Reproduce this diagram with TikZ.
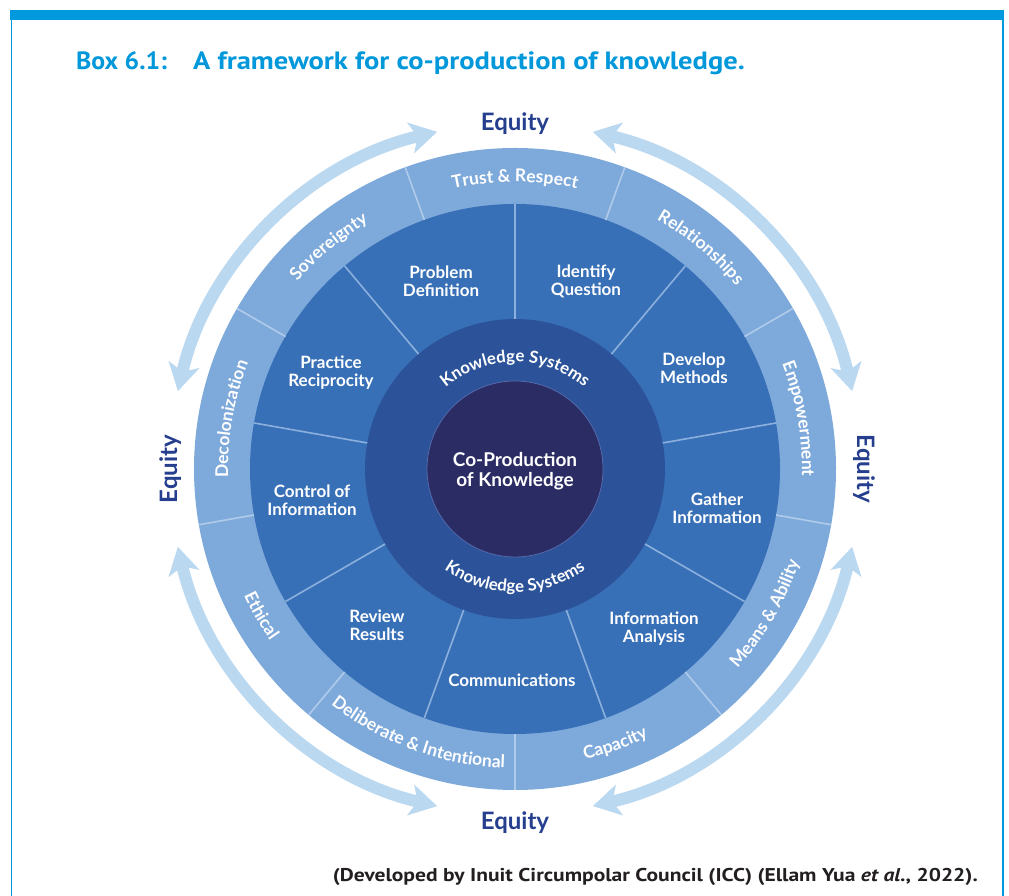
\documentclass[tikz,border=0pt]{standalone}
\usepackage{fontspec}
\usetikzlibrary{arrows.meta,decorations.text}
\newfontfamily\lato{Lato}
\newfontfamily\ptbox[FakeStretch=1.03]{PT Sans}
\newfontfamily\pttitle[FakeStretch=1.14]{PT Sans}
\newfontfamily\ptcap[FakeStretch=1.165]{PT Sans}
\definecolor{framec}{HTML}{0099DD}
\definecolor{titlec}{HTML}{0098DA}
\definecolor{outerc}{HTML}{7EA9DB}
\definecolor{odivc}{HTML}{B0CBEA}
\definecolor{midc}{HTML}{3870B7}
\definecolor{mdivc}{HTML}{8CB0DE}
\definecolor{ksc}{HTML}{2C5399}
\definecolor{innc}{HTML}{2A2C63}
\definecolor{innedge}{HTML}{5468AA}
\definecolor{arrc}{HTML}{BBD8F1}
\definecolor{eqc}{HTML}{253E8E}
\definecolor{capc}{HTML}{231F20}
\newcommand\outfont{\lato\bfseries\fontsize{17.5}{18}\selectfont}
\newcommand\ksfont{\lato\bfseries\fontsize{16.8}{18}\selectfont}
% text on an arc read clockwise (tops outward)
\newcommand\arcup[5]{%
  \path[shift={(515,427)},decorate,decoration={text along path,text align=center,text color=white,text={|#4|#5}}]
    (#1+#3:#2) arc[start angle=#1+#3,end angle=#1-#3,radius=#2];}
% text on an arc read counter-clockwise (tops inward)
\newcommand\arcdown[5]{%
  \path[shift={(515,427)},decorate,decoration={text along path,text align=center,text color=white,text={|#4|#5}}]
    (#1-#3:#2) arc[start angle=#1-#3,end angle=#1+#3,radius=#2];}
\tikzset{
  midlbl/.style={text=white,font=\lato\bfseries\fontsize{17}{18}\selectfont,align=center,inner sep=0pt},
  eqlbl/.style={text=eqc,font=\lato\bfseries\fontsize{24}{26}\selectfont,inner sep=0pt,anchor=base},
  wheelarrow/.style={draw=arrc,line width=12pt,{Stealth[length=27pt,width=31pt,inset=7pt]}-{Stealth[length=27pt,width=31pt,inset=7pt]}},
  odiv/.style={draw=odivc,line width=1.6pt},
  mdiv/.style={draw=mdivc,line width=1.6pt},
  titlefont/.style={text=titlec,font=\pttitle\bfseries\fontsize{25}{30}\selectfont,inner sep=0pt,anchor=base west},
}
\begin{document}
\begin{tikzpicture}[x=1pt,y=1pt]
\useasboundingbox (0,0) rectangle (1009,896);
\fill[white] (0,0) rectangle (1009,896);
% frame
\fill[framec] (10,876) rectangle (1004,886);
\draw[framec,line width=1.6pt] (11.3,876) -- (11.3,0);
\draw[framec,line width=1.6pt] (1002.7,876) -- (1002.7,0);
% title
\node[titlefont,font=\ptbox\bfseries\fontsize{25}{30}\selectfont] (tbox) at (76,826) {Box 6.1:};
\node[titlefont] (ttitle) at (193,826) {A framework for co-production of knowledge.};
% caption
\node[anchor=base east,text=capc,font=\ptcap\bfseries\fontsize{18.5}{22}\selectfont,inner sep=0pt] (cap) at (978,14)
  {(Developed by Inuit Circumpolar Council (ICC) (Ellam Yua \textit{et al.}, 2022).};
% arrows
\draw[wheelarrow,shift={(515,427)}] (167:346) arc[start angle=167,end angle=103,radius=346];
\draw[wheelarrow,shift={(515,427)}] (77:346) arc[start angle=77,end angle=13,radius=346];
\draw[wheelarrow,shift={(515,427)}] (193:346) arc[start angle=193,end angle=257,radius=346];
\draw[wheelarrow,shift={(515,427)}] (283:346) arc[start angle=283,end angle=347,radius=346];
% Equity labels
\node[eqlbl] (eqt) at (515,765) {Equity};
\node[eqlbl] (eqb) at (515,66) {Equity};
\node[eqlbl,rotate=90] (eql) at (177,427) {Equity};
\node[eqlbl,rotate=-90] (eqr) at (857,427) {Equity};
% wheel
\fill[outerc] (515,427) circle[radius=321];
\fill[midc] (515,427) circle[radius=265];
\fill[ksc] (515,427) circle[radius=150];
\filldraw[fill=innc,draw=innedge,line width=0.8pt] (515,427) circle[radius=88];
\foreach \a in {30,70,...,350} \draw[odiv,shift={(515,427)}] (\a:265) -- (\a:321);
\foreach \a in {10,50,...,330} \draw[mdiv,shift={(515,427)}] (\a:150) -- (\a:265);
% outer ring texts
\arcup{90}{287}{20}{\outfont}{Trust {\&} Respect}
\arcup{130}{287}{20}{\outfont}{Sovereignty}
\arcup{50}{287}{20}{\outfont}{Relationships}
\arcup{170}{287}{20}{\outfont}{Decolonization}
\arcup{10}{287}{20}{\outfont}{Empowerment}
\arcdown{210}{299}{20}{\outfont}{Ethical}
\arcdown{250}{299}{20}{\outfont}{Deliberate {\&} Intentional}
\arcdown{290}{299}{20}{\outfont}{Capacity}
\arcdown{330}{299}{20}{\outfont}{Means {\&} Ability}
% knowledge systems ring
\arcup{90}{107}{55}{\ksfont}{Knowledge Systems}
\arcdown{270}{123}{50}{\ksfont}{Knowledge Systems}
% middle ring labels
\node[midlbl] (pd) at (441,615) {Problem\\Definition};
\node[midlbl] (iq) at (586,615) {Identify\\Question};
\node[midlbl] (dm) at (694,528) {Develop\\Methods};
\node[midlbl] (gi) at (717,388) {Gather\\Information};
\node[midlbl] (ia) at (654,267) {Information\\Analysis};
\node[midlbl] (co) at (512,216) {Communications};
\node[midlbl] (rr) at (377,271) {Review\\Results};
\node[midlbl] (ci) at (312,396) {Control of\\Information};
\node[midlbl] (pr) at (331,523) {Practice\\Reciprocity};
% centre
\node[text=white,font=\lato\bfseries\fontsize{19}{19.5}\selectfont,align=center,inner sep=0pt] (cpk) at (515,425) {Co-Production\\of Knowledge};
\end{tikzpicture}
\end{document}
